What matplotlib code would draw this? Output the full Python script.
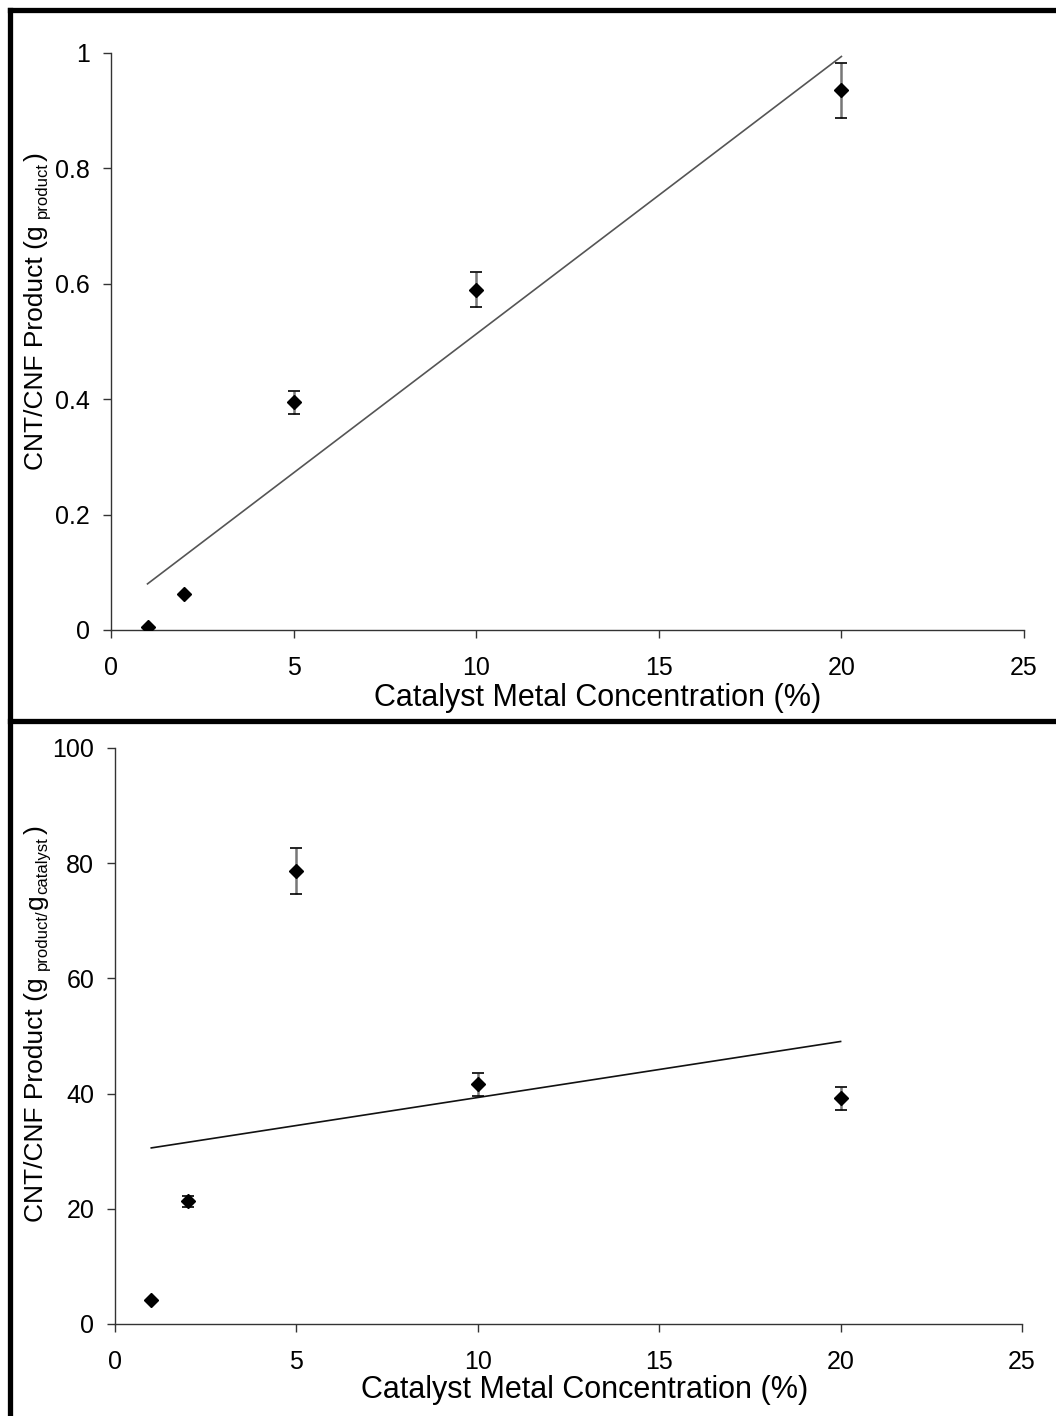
import numpy as np
import matplotlib.pyplot as plt
from matplotlib.lines import Line2D
from matplotlib.transforms import IdentityTransform

plt.rcParams['font.family'] = ['Liberation Sans', 'DejaVu Sans']

# ---------- data ----------
conc = [1, 2, 5, 10, 20]

mass_prod = [0.005, 0.062, 0.395, 0.59, 0.935]
mass_err = [0.0, 0.0, 0.02, 0.03, 0.048]

yield_prod = [4.2, 21.3, 78.6, 41.6, 39.2]
yield_err = [0.0, 1.0, 4.0, 2.0, 2.0]

xticks = [0, 5, 10, 15, 20, 25]
yticks_top = [0, 0.2, 0.4, 0.6, 0.8, 1]
ylabels_top = ["0", "0.2", "0.4", "0.6", "0.8", "1"]
yticks_bot = [0, 20, 40, 60, 80, 100]

fig = plt.figure(figsize=(10.56, 14.16), dpi=100)

ax1 = fig.add_axes([0.1051, 0.5551, 0.8646, 0.4075])
ax2 = fig.add_axes([0.1089, 0.0650, 0.8589, 0.4068])


def style(ax, yt, ylab, lx, ly):
    for s in ["top", "right"]:
        ax.spines[s].set_visible(False)
    for s in ["left", "bottom"]:
        ax.spines[s].set_color("#333333")
        ax.spines[s].set_linewidth(1.0)
    ax.set_xlim(0, 25)
    ax.set_xticks(xticks)
    ax.set_yticks(yt)
    ax.set_yticklabels(ylab)
    ax.tick_params(axis="x", direction="out", length=6, width=1,
                   color="#333333", labelsize=18, pad=13)
    ax.tick_params(axis="y", direction="out", length=6, width=1,
                   color="#333333", labelsize=18, pad=9)
    ax.set_xlabel("Catalyst Metal Concentration (%)", fontsize=22)
    ax.xaxis.set_label_coords(lx, ly)
    ax.xaxis.label.set_va("center")


def draw(ax, y, err, line_color):
    c = np.polyfit(conc, y, 1)
    xs = np.array([conc[0], conc[-1]])
    ax.plot(xs, np.polyval(c, xs), color=line_color, lw=1.2, zorder=1)
    ax.errorbar(conc, y, yerr=err, fmt="none", ecolor="#777777",
                elinewidth=1.8, capsize=0, zorder=2)
    # black caps
    ax.errorbar(conc, y, yerr=err, fmt="none", ecolor="black",
                elinewidth=0, capsize=4, capthick=1.2, zorder=2)
    ax.plot(conc, y, "D", color="black", ms=7.5, zorder=3)


def rot_label(pieces, x0, y0):
    # vertical label built from pieces: (text, size, baseline shift px, gap px)
    r = fig.canvas.get_renderer()
    y = y0
    for txt, size, dx, gap in pieces:
        y += gap
        t = fig.text(x0 + dx, y, txt, fontsize=size, rotation=90,
                     rotation_mode="anchor", ha="left", va="baseline",
                     transform=IdentityTransform())
        bb = t.get_window_extent(r)
        y = bb.y1


# ---------- top panel ----------
style(ax1, yticks_top, ylabels_top, 0.533, -0.118)
ax1.set_ylim(0, 1)
draw(ax1, mass_prod, mass_err, "#555555")

# ---------- bottom panel ----------
style(ax2, yticks_bot, [str(v) for v in yticks_bot], 0.518, -0.1146)
ax2.set_ylim(0, 100)
draw(ax2, yield_prod, yield_err, "#111111")

big, small = 19, 12
rot_label([("CNT/CNF Product (g", big, 0, 0),
           ("product", small, 4, 7),
           (")", big, 0, 1)], 43, 946)
rot_label([("CNT/CNF Product (g", big, 0, 0),
           ("product/", small, 4, 7),
           ("g", big, 0, 1),
           ("catalyst", small, 4, 0),
           (")", big, 0, 3)], 43, 194)

# ---------- frame ----------
lw = 3.8
fig.add_artist(Line2D([0.009, 0.009], [0, 0.9926], color="black", lw=lw,
                      transform=fig.transFigure))
fig.add_artist(Line2D([0.009, 1.0], [0.9926, 0.9926], color="black", lw=lw,
                      transform=fig.transFigure))
fig.add_artist(Line2D([0.009, 1.0], [0.4908, 0.4908], color="black", lw=lw,
                      transform=fig.transFigure))

fig.savefig("out.png", dpi=100)
